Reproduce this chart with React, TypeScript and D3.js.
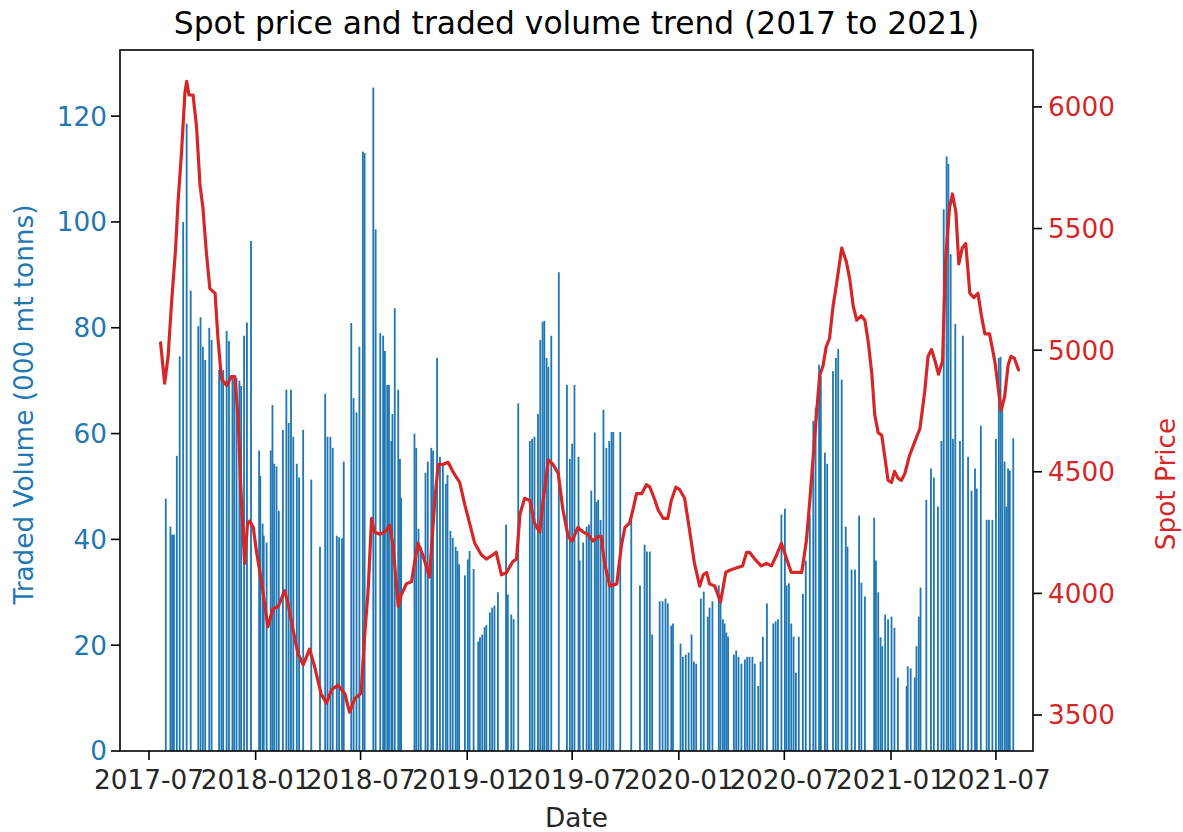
import React from "react";
import * as d3 from "d3";

// ---------- data ----------
const volumeData: [string, number][] = [
  ["2017-07-30", 47.7], ["2017-08-07", 42.4], ["2017-08-10", 40.9], ["2017-08-13", 40.9],
  ["2017-08-18", 55.8], ["2017-08-23", 74.6], ["2017-08-29", 100], ["2017-09-04", 118.6],
  ["2017-09-11", 87], ["2017-09-24", 80.3], ["2017-09-28", 82], ["2017-10-02", 76.4],
  ["2017-10-06", 73.9], ["2017-10-13", 80], ["2017-10-17", 77.7], ["2017-10-30", 72],
  ["2017-11-03", 71.5], ["2017-11-06", 72], ["2017-11-12", 79.4], ["2017-11-16", 77.5],
  ["2017-11-22", 70.5], ["2017-11-25", 70], ["2017-11-29", 70.5], ["2017-12-04", 70],
  ["2017-12-07", 69], ["2017-12-12", 78.5], ["2017-12-17", 81], ["2017-12-24", 96.4],
  ["2018-01-07", 56.8], ["2018-01-09", 52], ["2018-01-13", 43], ["2018-01-15", 40.7],
  ["2018-01-20", 39.4], ["2018-01-27", 56.8], ["2018-01-30", 65.4], ["2018-02-02", 54.3],
  ["2018-02-06", 53.8], ["2018-02-10", 45.4], ["2018-02-17", 60.7], ["2018-02-23", 68.3],
  ["2018-02-27", 62], ["2018-03-03", 68.3], ["2018-03-07", 59.4], ["2018-03-13", 54.3],
  ["2018-03-17", 51.7], ["2018-03-24", 60.7], ["2018-04-07", 51.3], ["2018-04-22", 38.6],
  ["2018-05-01", 67.5], ["2018-05-05", 59.4], ["2018-05-10", 59.4], ["2018-05-14", 57.3],
  ["2018-05-21", 40.7], ["2018-05-25", 40.4], ["2018-05-30", 40.2], ["2018-06-02", 54.7],
  ["2018-06-15", 80.9], ["2018-06-19", 66.7], ["2018-06-24", 64], ["2018-06-29", 76.4],
  ["2018-07-05", 113.3], ["2018-07-08", 113], ["2018-07-23", 125.4], ["2018-07-27", 98.6],
  ["2018-08-04", 79], ["2018-08-09", 78.5], ["2018-08-12", 75.6], ["2018-08-16", 69.2],
  ["2018-08-19", 69.2], ["2018-08-23", 58.6], ["2018-08-25", 63.7], ["2018-08-29", 83.7],
  ["2018-09-04", 68.3], ["2018-09-07", 55.2], ["2018-09-09", 47.9], ["2018-10-02", 60],
  ["2018-10-05", 57.3], ["2018-10-09", 42], ["2018-10-13", 38.6], ["2018-10-21", 52.6],
  ["2018-10-25", 54.7], ["2018-10-31", 57.3], ["2018-11-03", 56.8], ["2018-11-10", 74.3],
  ["2018-11-15", 55.6], ["2018-11-20", 54], ["2018-11-25", 50.5], ["2018-11-28", 52.2],
  ["2018-12-03", 41.6], ["2018-12-07", 40.3], ["2018-12-12", 38.6], ["2018-12-15", 37.8],
  ["2018-12-18", 35.3], ["2018-12-28", 33.2], ["2019-01-02", 36.2], ["2019-01-05", 37.8],
  ["2019-01-12", 34.4], ["2019-01-20", 20.7], ["2019-01-23", 21.5], ["2019-01-27", 22],
  ["2019-01-31", 23.4], ["2019-02-03", 23.8], ["2019-02-09", 26.2], ["2019-02-13", 27.1],
  ["2019-02-17", 27.5], ["2019-02-23", 30], ["2019-03-09", 42.8], ["2019-03-12", 29.6],
  ["2019-03-18", 25.8], ["2019-03-22", 24.9], ["2019-03-30", 65.7], ["2019-04-19", 58.6],
  ["2019-04-23", 59], ["2019-04-27", 59.4], ["2019-05-03", 63.7], ["2019-05-07", 77.7],
  ["2019-05-11", 81.1], ["2019-05-14", 81.3], ["2019-05-18", 74.3], ["2019-05-21", 72.6],
  ["2019-05-26", 78.5], ["2019-06-08", 90.5], ["2019-06-22", 69.2], ["2019-06-27", 55.2],
  ["2019-07-01", 58.1], ["2019-07-05", 69.2], ["2019-07-12", 55.6], ["2019-07-14", 36],
  ["2019-07-20", 39.4], ["2019-07-26", 42.4], ["2019-07-30", 42.8], ["2019-08-03", 49.2],
  ["2019-08-09", 60.2], ["2019-08-12", 47.1], ["2019-08-15", 47.5], ["2019-08-19", 43.7],
  ["2019-08-24", 64.5], ["2019-08-29", 57.3], ["2019-09-03", 58.6], ["2019-09-07", 60.3],
  ["2019-09-10", 60.3], ["2019-09-22", 60.3], ["2019-10-11", 44.5], ["2019-10-26", 31.3],
  ["2019-11-03", 39], ["2019-11-07", 37.7], ["2019-11-12", 37.7], ["2019-11-16", 22],
  ["2019-11-29", 28.3], ["2019-12-04", 28.3], ["2019-12-09", 28.8], ["2019-12-13", 27.9],
  ["2019-12-19", 23.7], ["2019-12-22", 24.1], ["2020-01-04", 20.3], ["2020-01-08", 17.8],
  ["2020-01-13", 18.2], ["2020-01-18", 18.6], ["2020-01-23", 22], ["2020-01-27", 16.9],
  ["2020-01-31", 16.5], ["2020-02-08", 28.8], ["2020-02-13", 30.1], ["2020-02-20", 25.4],
  ["2020-02-23", 27.1], ["2020-02-28", 28.3], ["2020-03-10", 31.3], ["2020-03-13", 28.3],
  ["2020-03-17", 24.9], ["2020-03-20", 24.1], ["2020-03-23", 22.4], ["2020-03-26", 21.6],
  ["2020-04-05", 18.2], ["2020-04-09", 19], ["2020-04-13", 17.8], ["2020-04-18", 16.5],
  ["2020-04-24", 17.3], ["2020-04-28", 17.8], ["2020-05-02", 17.8], ["2020-05-07", 17.8],
  ["2020-05-11", 16.5], ["2020-05-17", 12.3], ["2020-05-21", 16.9], ["2020-05-25", 21.6],
  ["2020-06-01", 27.9], ["2020-06-12", 24.1], ["2020-06-16", 24.5], ["2020-06-20", 24.9],
  ["2020-06-26", 44.7], ["2020-07-02", 45.8], ["2020-07-05", 31.3], ["2020-07-09", 31.7],
  ["2020-07-13", 24.1], ["2020-07-17", 21.6], ["2020-07-21", 14.8], ["2020-07-26", 21.6],
  ["2020-08-02", 29.7], ["2020-08-07", 36], ["2020-08-14", 44.7], ["2020-08-20", 62.4],
  ["2020-08-24", 64.9], ["2020-08-30", 73], ["2020-09-02", 70.9], ["2020-09-09", 56.4],
  ["2020-09-13", 54.3], ["2020-09-23", 71.8], ["2020-09-28", 74.3], ["2020-10-02", 76],
  ["2020-10-08", 70.2], ["2020-10-15", 42.4], ["2020-10-18", 38.6], ["2020-10-25", 34.3],
  ["2020-10-31", 34.3], ["2020-11-07", 44.5], ["2020-11-11", 31.8], ["2020-11-17", 29.2],
  ["2020-12-03", 44.1], ["2020-12-06", 36], ["2020-12-10", 30], ["2020-12-14", 21.5],
  ["2020-12-17", 19.8], ["2020-12-22", 25.8], ["2020-12-27", 24.9], ["2021-01-02", 25.4],
  ["2021-01-07", 23.3], ["2021-01-13", 13.9], ["2021-01-28", 12.3], ["2021-01-30", 16],
  ["2021-02-04", 15.6], ["2021-02-11", 13.9], ["2021-02-14", 19.8], ["2021-02-18", 25.4],
  ["2021-02-21", 30.9], ["2021-03-03", 47.5], ["2021-03-11", 53.4], ["2021-03-16", 51.7],
  ["2021-03-23", 46.2], ["2021-03-29", 58.6], ["2021-04-02", 102.4], ["2021-04-07", 112.4],
  ["2021-04-10", 111], ["2021-04-14", 93.9], ["2021-04-18", 59], ["2021-04-22", 80.7],
  ["2021-04-30", 58.6], ["2021-05-05", 78.5], ["2021-05-14", 55.6], ["2021-05-20", 49.2],
  ["2021-05-26", 53.4], ["2021-05-29", 49.6], ["2021-06-05", 61.5], ["2021-06-15", 43.7],
  ["2021-06-19", 43.7], ["2021-06-25", 43.7], ["2021-07-01", 59], ["2021-07-06", 74.3],
  ["2021-07-09", 74.5], ["2021-07-12", 66], ["2021-07-16", 54.7], ["2021-07-19", 46.2],
  ["2021-07-22", 53.4], ["2021-07-25", 53], ["2021-07-31", 59.1],
];

const priceData: [string, number][] = [
  ["2017-07-21", 5030], ["2017-07-28", 4864], ["2017-08-03", 4975], ["2017-08-09", 5197],
  ["2017-08-16", 5420], ["2017-08-20", 5605], ["2017-08-26", 5808], ["2017-09-01", 6058],
  ["2017-09-04", 6105], ["2017-09-08", 6049], ["2017-09-15", 6049], ["2017-09-21", 5920],
  ["2017-09-27", 5679], ["2017-10-02", 5586], ["2017-10-08", 5401], ["2017-10-14", 5253],
  ["2017-10-23", 5234], ["2017-10-28", 5049], ["2017-11-03", 4882], ["2017-11-12", 4855],
  ["2017-11-20", 4891], ["2017-11-26", 4891], ["2017-12-02", 4715], ["2017-12-06", 4456],
  ["2017-12-13", 4123], ["2017-12-18", 4289], ["2017-12-22", 4298], ["2017-12-28", 4271],
  ["2018-01-02", 4178], ["2018-01-11", 4049], ["2018-01-22", 3863], ["2018-01-31", 3937],
  ["2018-02-09", 3946], ["2018-02-20", 4011], ["2018-02-26", 3956], ["2018-03-07", 3845],
  ["2018-03-15", 3753], ["2018-03-24", 3706], ["2018-04-04", 3771], ["2018-04-13", 3697],
  ["2018-04-24", 3586], ["2018-05-03", 3549], ["2018-05-12", 3604], ["2018-05-23", 3623],
  ["2018-06-04", 3586], ["2018-06-12", 3512], ["2018-06-21", 3567], ["2018-07-02", 3590],
  ["2018-07-08", 3826], ["2018-07-14", 4011], ["2018-07-20", 4308], ["2018-07-25", 4252],
  ["2018-08-03", 4243], ["2018-08-12", 4252], ["2018-08-20", 4280], ["2018-08-26", 4197],
  ["2018-09-04", 3946], ["2018-09-09", 3993], ["2018-09-18", 4039], ["2018-09-27", 4049],
  ["2018-10-02", 4123], ["2018-10-08", 4206], ["2018-10-16", 4160], ["2018-10-28", 4067],
  ["2018-11-06", 4382], ["2018-11-12", 4530], ["2018-11-20", 4530], ["2018-11-29", 4539],
  ["2018-12-07", 4502], ["2018-12-19", 4456], ["2018-12-28", 4363], ["2019-01-05", 4289],
  ["2019-01-14", 4206], ["2019-01-25", 4160], ["2019-02-03", 4141], ["2019-02-15", 4160],
  ["2019-02-20", 4169], ["2019-03-01", 4076], ["2019-03-10", 4086], ["2019-03-21", 4132],
  ["2019-03-27", 4141], ["2019-04-02", 4326], ["2019-04-10", 4391], ["2019-04-19", 4382],
  ["2019-04-27", 4289], ["2019-05-06", 4252], ["2019-05-12", 4382], ["2019-05-21", 4549],
  ["2019-05-29", 4530], ["2019-06-07", 4493], ["2019-06-15", 4345], ["2019-06-24", 4234],
  ["2019-07-01", 4215], ["2019-07-11", 4271], ["2019-07-20", 4252], ["2019-07-28", 4243],
  ["2019-08-06", 4215], ["2019-08-15", 4234], ["2019-08-20", 4234], ["2019-08-26", 4123],
  ["2019-09-04", 4030], ["2019-09-16", 4039], ["2019-09-24", 4197], ["2019-09-30", 4271],
  ["2019-10-08", 4289], ["2019-10-14", 4345], ["2019-10-20", 4410], ["2019-10-29", 4410],
  ["2019-11-06", 4447], ["2019-11-12", 4437], ["2019-11-21", 4382], ["2019-11-26", 4345],
  ["2019-12-05", 4308], ["2019-12-13", 4308], ["2019-12-19", 4382], ["2019-12-27", 4437],
  ["2020-01-02", 4428], ["2020-01-11", 4391], ["2020-01-20", 4252], ["2020-01-28", 4123],
  ["2020-02-06", 4030], ["2020-02-12", 4076], ["2020-02-18", 4086], ["2020-02-23", 4039],
  ["2020-03-03", 4030], ["2020-03-13", 3965], ["2020-03-22", 4086], ["2020-03-29", 4095],
  ["2020-04-09", 4104], ["2020-04-20", 4113], ["2020-04-27", 4169], ["2020-05-02", 4169],
  ["2020-05-11", 4141], ["2020-05-22", 4113], ["2020-05-31", 4123], ["2020-06-09", 4113],
  ["2020-06-18", 4160], ["2020-06-26", 4206], ["2020-07-05", 4141], ["2020-07-13", 4086],
  ["2020-07-22", 4086], ["2020-07-31", 4086], ["2020-08-08", 4215], ["2020-08-14", 4382],
  ["2020-08-20", 4567], ["2020-08-26", 4752], ["2020-08-31", 4895], ["2020-09-06", 4938],
  ["2020-09-11", 5012], ["2020-09-17", 5049], ["2020-09-23", 5179], ["2020-09-29", 5271],
  ["2020-10-08", 5420], ["2020-10-16", 5364], ["2020-10-22", 5290], ["2020-10-28", 5179],
  ["2020-11-03", 5123], ["2020-11-11", 5142], ["2020-11-17", 5123], ["2020-11-23", 5030],
  ["2020-11-29", 4901], ["2020-12-04", 4734], ["2020-12-10", 4660], ["2020-12-16", 4651],
  ["2020-12-21", 4567], ["2020-12-27", 4465], ["2021-01-02", 4456], ["2021-01-07", 4502],
  ["2021-01-13", 4474], ["2021-01-19", 4465], ["2021-01-25", 4493], ["2021-02-02", 4567],
  ["2021-02-11", 4623], ["2021-02-20", 4678], ["2021-02-28", 4826], ["2021-03-06", 4975],
  ["2021-03-12", 5003], ["2021-03-18", 4956], ["2021-03-24", 4901], ["2021-03-31", 4956],
  ["2021-04-05", 5364], ["2021-04-12", 5586], ["2021-04-17", 5642], ["2021-04-23", 5568],
  ["2021-04-28", 5355], ["2021-05-04", 5420], ["2021-05-10", 5438], ["2021-05-17", 5234],
  ["2021-05-24", 5216], ["2021-05-31", 5234], ["2021-06-06", 5142], ["2021-06-12", 5067],
  ["2021-06-20", 5067], ["2021-06-29", 4956], ["2021-07-05", 4845], ["2021-07-10", 4752],
  ["2021-07-16", 4808], ["2021-07-22", 4938], ["2021-07-27", 4975], ["2021-08-02", 4966],
  ["2021-08-09", 4919],
];

const dateTicks = [
  "2017-07-01", "2018-01-01", "2018-07-01", "2019-01-01", "2019-07-01",
  "2020-01-01", "2020-07-01", "2021-01-01", "2021-07-01",
];
const volumeTicks = [0, 20, 40, 60, 80, 100, 120];
const priceTicks = [3500, 4000, 4500, 5000, 5500, 6000];
const dateDomain = ["2017-05-12", "2021-09-03"];
const volumeDomain = [0, 132.5];
const priceDomain = [3352, 6234];

const TITLE = "Spot price and traded volume trend (2017 to 2021)";
const X_LABEL = "Date";
const Y_LEFT_LABEL = "Traded Volume (000 mt tonns)";
const Y_RIGHT_LABEL = "Spot Price";

// ---------- layout / style ----------
const W = 1183;
const H = 832;
const L = 120, R = 1033, T = 50, B = 751;
const BLUE = "#1f77b4";
const RED = "#d62728";
const FONT = "'DejaVu Sans', sans-serif";
const TICK_FS = 26.3;
const TITLE_FS = 31.3;
const TICK_LEN = 9;
const BAR_DAYS = 3.1;

export default function App() {
  const parse = d3.utcParse("%Y-%m-%d");
  const x = d3.scaleUtc().domain(dateDomain.map((s) => parse(s) as Date)).range([L, R]);
  const yV = d3.scaleLinear().domain(volumeDomain).range([B, T]);
  const yP = d3.scaleLinear().domain(priceDomain).range([B, T]);

  const bars = volumeData.map(([d, v]) => {
    const dt = parse(d) as Date;
    const x0 = x(d3.utcHour.offset(dt, -12 * BAR_DAYS));
    const x1 = x(d3.utcHour.offset(dt, 12 * BAR_DAYS));
    return { x: x0, w: x1 - x0, y: yV(v), h: yV(0) - yV(v) };
  });

  const line = d3
    .line<[string, number]>()
    .x((d) => x(parse(d[0]) as Date))
    .y((d) => yP(d[1]))
    .curve(d3.curveLinear);

  const fmt = d3.utcFormat("%Y-%m");

  return (
    <svg
      width={W}
      height={H}
      viewBox={`0 0 ${W} ${H}`}
      style={{ position: "absolute", left: 0, top: 0, background: "#fff" }}
      fontFamily={FONT}
    >
      <rect x={0} y={0} width={W} height={H} fill="#fff" />
      {/* bars */}
      <g fill={BLUE}>
        {bars.map((b, i) => (
          <rect key={i} x={b.x} y={b.y} width={b.w} height={b.h} />
        ))}
      </g>
      {/* price line */}
      <path
        d={line(priceData) || ""}
        fill="none"
        stroke={RED}
        strokeWidth={3.2}
        strokeLinejoin="round"
        strokeLinecap="round"
      />
      {/* frame */}
      <rect x={L} y={T} width={R - L} height={B - T} fill="none" stroke="#000" strokeWidth={1.6} />

      {/* x axis */}
      {dateTicks.map((s) => {
        const dt = parse(s) as Date;
        const px = x(dt);
        return (
          <g key={s}>
            <line x1={px} x2={px} y1={B} y2={B + TICK_LEN} stroke="#000" strokeWidth={1.6} />
            <text x={px} y={B + 38} textAnchor="middle" fontSize={TICK_FS} fill="#262626">
              {fmt(dt)}
            </text>
          </g>
        );
      })}
      <text x={(L + R) / 2} y={827} textAnchor="middle" fontSize={TICK_FS} fill="#262626">
        {X_LABEL}
      </text>

      {/* left axis */}
      {volumeTicks.map((v) => (
        <g key={v}>
          <line x1={L - TICK_LEN} x2={L} y1={yV(v)} y2={yV(v)} stroke="#000" strokeWidth={1.6} />
          <text
            x={L - TICK_LEN - 4}
            y={yV(v)}
            dy="0.36em"
            textAnchor="end"
            fontSize={TICK_FS}
            fill={BLUE}
          >
            {v}
          </text>
        </g>
      ))}
      <text
        transform={`translate(24, ${(T + B) / 2 + 4}) rotate(-90)`}
        textAnchor="middle"
        dominantBaseline="central"
        fontSize={TICK_FS}
        fill={BLUE}
      >
        {Y_LEFT_LABEL}
      </text>

      {/* right axis */}
      {priceTicks.map((v) => (
        <g key={v}>
          <line x1={R} x2={R + TICK_LEN} y1={yP(v)} y2={yP(v)} stroke="#000" strokeWidth={1.6} />
          <text
            x={R + TICK_LEN + 6}
            y={yP(v)}
            dy="0.36em"
            textAnchor="start"
            fontSize={TICK_FS}
            fill={RED}
          >
            {v}
          </text>
        </g>
      ))}
      <text
        transform={`translate(1166, 484) rotate(-90)`}
        textAnchor="middle"
        dominantBaseline="central"
        fontSize={TICK_FS}
        fill={RED}
      >
        {Y_RIGHT_LABEL}
      </text>

      {/* title */}
      <text x={(L + R) / 2} y={34} textAnchor="middle" fontSize={TITLE_FS} fill="#000">
        {TITLE}
      </text>
    </svg>
  );
}
